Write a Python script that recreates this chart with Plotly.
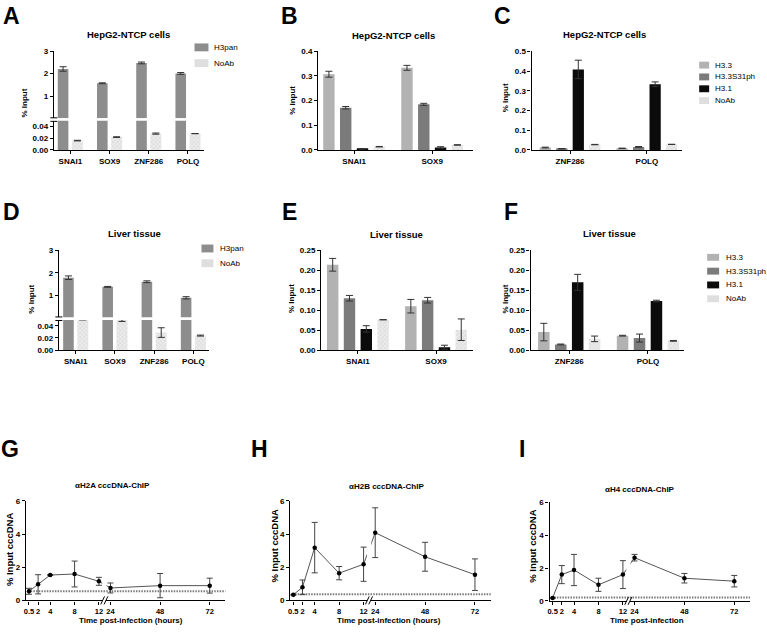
import plotly.graph_objects as go

W, H = 767, 633
FONT = "Liberation Sans, Arial, Helvetica, sans-serif"

# ---------- data ----------
genes = ["SNAI1", "SOX9", "ZNF286", "POLQ"]
genes_left = ["SNAI1", "SOX9"]
genes_right = ["ZNF286", "POLQ"]
pan_names = ["H3pan", "NoAb"]
variants = ["H3.3", "H3.3S31ph", "H3.1", "NoAb"]

# A  HepG2-NTCP cells, H3pan vs NoAb (% input)
a_h3pan = [2.21, 1.57, 2.48, 2.01]
a_h3pan_err = [0.10, 0.02, 0.04, 0.04]
a_noab = [0.016, 0.022, 0.028, 0.028]
a_noab_err = [0.0005, 0.0006, 0.001, 0.0]

# B  HepG2-NTCP cells, variants at SNAI1 / SOX9 (rows follow `variants`)
b_mean = [[0.307, 0.333], [0.171, 0.185], [0.004, 0.010], [0.013, 0.020]]
b_err = [[0.012, 0.010], [0.005, 0.004], [0.001, 0.003], [0.001, 0.001]]

# C  HepG2-NTCP cells, variants at ZNF286 / POLQ
c_mean = [[0.012, 0.008], [0.006, 0.015], [0.408, 0.333], [0.027, 0.028]]
c_err = [[0.002, 0.001], [0.001, 0.002], [0.047, 0.012], [0.001, 0.0005]]

# D  Liver tissue, H3pan vs NoAb
d_h3pan = [1.78, 1.37, 1.60, 0.88]
d_h3pan_err = [0.08, 0.02, 0.04, 0.05]
d_noab = [0.0505, 0.049, 0.029, 0.024]
d_noab_err = [0.0005, 0.0015, 0.008, 0.0008]

# E  Liver tissue, variants at SNAI1 / SOX9
e_mean = [[0.214, 0.110], [0.130, 0.125], [0.053, 0.007], [0.076, 0.051]]
e_err = [[0.016, 0.017], [0.007, 0.007], [0.008, 0.005], [0.0, 0.027]]

# F  Liver tissue, variants at ZNF286 / POLQ
f_mean = [[0.045, 0.036], [0.014, 0.030], [0.170, 0.123], [0.028, 0.023]]
f_err = [[0.022, 0.001], [0.001, 0.010], [0.020, 0.002], [0.007, 0.001]]

# G-I  cccDNA-ChIP time course (% input cccDNA)
hours = [0.5, 2, 4, 8, 12, 24, 48, 72]
hour_labels = ["0.5", "2", "4", "8", "12", "24", "48", "72"]
g_mean = [0.55, 0.97, 1.53, 1.59, 1.15, 0.75, 0.89, 0.89]
g_err = [0.18, 0.58, 0.03, 0.78, 0.24, 0.30, 0.73, 0.45]
g_base = 0.55
h_mean = [0.34, 0.79, 3.18, 1.64, 2.18, 4.08, 2.63, 1.55]
h_err = [0.03, 0.44, 1.52, 0.40, 1.03, 1.50, 0.87, 0.95]
h_base = 0.37
i_mean = [0.18, 1.60, 1.88, 0.98, 1.60, 2.63, 1.38, 1.20]
i_err = [0.02, 0.55, 0.95, 0.40, 0.85, 0.20, 0.29, 0.35]
i_base = 0.21

# ---------- styles ----------
pan_colors = {"H3pan": "#8d8d8d"}
var_colors = {"H3.3": "#b2b2b2", "H3.3S31ph": "#7b7b7b", "H3.1": "#0b0b0b"}
NOAB_SWATCH = "#dedede"


def px(x):
    return x / W


def py(y):
    return 1 - y / H


def brk(h):
    # broken time axis: 0-12 h linear, 24-72 h compressed
    return h if h <= 12 else 13.9 + (h - 24) * 0.34


def marker_for(name):
    if name == "NoAb":
        return dict(color="#e4e4e4",
                    pattern=dict(shape="x", fgcolor="#b8b8b8", bgcolor="#ebebeb", size=3, solidity=0.3),
                    line=dict(width=0))
    col = pan_colors.get(name) or var_colors[name]
    return dict(color=col, line=dict(width=0))


def err_style(arr, show=True):
    return dict(type="data", array=arr, visible=show, color="#333333", thickness=1, width=3.5)


AX = dict(showgrid=False, zeroline=False, showline=True, linecolor="black", linewidth=1.3,
          ticks="outside", ticklen=3, tickwidth=1.3, tickcolor="black", fixedrange=True, tickangle=0,
          tickfont=dict(family=FONT, size=8, color="black", weight="bold"))

fig = go.Figure()
layout = {}
shapes = []
annots = []


def add_text(text, x, y, size, bold=True, angle=0, anchor="center"):
    annots.append(dict(text=text, x=px(x), y=py(y), xref="paper", yref="paper", showarrow=False,
                       xanchor=anchor, yanchor="middle", textangle=angle,
                       font=dict(family=FONT, size=size, color="black", weight="bold" if bold else "normal")))


def add_legend(names, x0, x1, ys, hgt, tx):
    for name, y in zip(names, ys):
        col = NOAB_SWATCH if name == "NoAb" else (pan_colors.get(name) or var_colors[name])
        shapes.append(dict(type="rect", xref="paper", yref="paper", x0=px(x0), x1=px(x1),
                           y0=py(y + hgt / 2), y1=py(y - hgt / 2), fillcolor=col, line_width=0))
        add_text(name, tx, y, 8, bold=False, anchor="left")


# ---------- broken-axis panels (A, D) ----------
def pan_panel(n, xbox, xrange, upper, lower, h3pan, h3pan_err, noab, noab_err):
    xi, yl, yu = n, 2 * n - 1, 2 * n
    xa, ya_l, ya_u = f"x{xi}", f"y{yl}", f"y{yu}"
    layout[f"xaxis{xi}"] = dict(AX, type="category", domain=[px(xbox[0]), px(xbox[1])], range=xrange,
                                anchor=ya_l)
    layout[f"yaxis{yl}"] = dict(AX, domain=[py(lower[1]), py(lower[0])], range=[0, 0.05], anchor=xa,
                                tickvals=[0, 0.02, 0.04], ticktext=["0.00", "0.02", "0.04"])
    layout[f"yaxis{yu}"] = dict(AX, domain=[py(upper[1]), py(upper[0])], range=[0, 3], anchor=xa,
                                tickvals=[1, 2, 3])
    for ya in (ya_l, ya_u):
        fig.add_trace(go.Bar(x=genes, y=h3pan, name="H3pan", xaxis=xa, yaxis=ya, offset=-0.32, width=0.27,
                             marker=marker_for("H3pan"), error_y=err_style(h3pan_err, ya == ya_u)))
    fig.add_trace(go.Bar(x=genes, y=noab, name="NoAb", xaxis=xa, yaxis=ya_l, offset=0.04, width=0.28,
                         marker=marker_for("NoAb"), error_y=err_style(noab_err)))
    # break marks on the y axis
    mid = (upper[1] + lower[0]) / 2
    for dy in (-1.8, 1.8):
        shapes.append(dict(type="line", xref="paper", yref="paper", x0=px(xbox[0] - 3.5), x1=px(xbox[0] + 3.5),
                           y0=py(mid + dy), y1=py(mid + dy), line=dict(color="black", width=1)))


# ---------- four-variant panels (B, C, E, F) ----------
def var_panel(xi, yi, xbox, ybox, xrange, yrange, dtick, fmt, cats, means, errs):
    xa, ya = f"x{xi}", f"y{yi}"
    layout[f"xaxis{xi}"] = dict(AX, type="category", domain=[px(xbox[0]), px(xbox[1])], range=xrange, anchor=ya)
    layout[f"yaxis{yi}"] = dict(AX, domain=[py(ybox[1]), py(ybox[0])], range=yrange, anchor=xa,
                                dtick=dtick, tickformat=fmt)
    for name, m, e in zip(variants, means, errs):
        fig.add_trace(go.Bar(x=cats, y=m, name=name, xaxis=xa, yaxis=ya,
                             marker=marker_for(name), error_y=err_style(e)))


# ---------- time-course panels (G, H, I) ----------
def time_panel(xi, yi, xbox, ybox, mean, err, base):
    xa, ya = f"x{xi}", f"y{yi}"
    layout[f"xaxis{xi}"] = dict(AX, domain=[px(xbox[0]), px(xbox[1])], range=[0, 32.8], anchor=ya,
                                tickvals=[brk(h) for h in hours], ticktext=hour_labels,
                                tickfont=dict(family=FONT, size=7.5, color="black", weight="bold"))
    layout[f"yaxis{yi}"] = dict(AX, domain=[py(ybox[1]), py(ybox[0])], range=[0, 6], anchor=xa, dtick=2)
    shapes.append(dict(type="line", xref=f"{xa} domain", yref=ya, x0=0.01, x1=1, y0=base, y1=base,
                       line=dict(color="#7a7a7a", width=2, dash="1.5px,1.2px"), layer="below"))
    fig.add_trace(go.Scatter(x=[brk(h) for h in hours], y=mean, mode="lines+markers", xaxis=xa, yaxis=ya,
                             line=dict(color="#555555", width=1), cliponaxis=False,
                             marker=dict(color="black", size=4.5, symbol="circle"),
                             error_y=dict(type="data", array=err, color="#444444", thickness=1, width=3)))
    # gap in the curve and the // marks at the axis break
    shapes.append(dict(type="rect", xref=xa, yref=f"{ya} domain", x0=12.55, x1=13.25, y0=0.12, y1=1,
                       fillcolor="white", line_width=0, layer="above"))
    shapes.append(dict(type="rect", xref=xa, yref=f"{ya} domain", x0=12.62, x1=13.15, y0=-0.025, y1=0.025,
                       fillcolor="white", line_width=0, layer="above"))
    for x0 in (12.3, 12.85):
        shapes.append(dict(type="line", xref=xa, yref=f"{ya} domain", x0=x0, x1=x0 + 0.62, y0=-0.04, y1=0.04,
                           line=dict(color="black", width=1), layer="above"))


pan_panel(1, (52, 203), [-0.42, 3.42], (48, 116), (118.5, 148), a_h3pan, a_h3pan_err, a_noab, a_noab_err)
var_panel(2, 3, (317, 472), (48, 148), [-0.46, 1.52], [0, 0.4], 0.1, ".1f", genes_left, b_mean, b_err)
var_panel(3, 4, (531, 682), (48, 148), [-0.5, 1.46], [0, 0.5], 0.1, ".1f", genes_right, c_mean, c_err)
pan_panel(4, (57, 208), [-0.43, 3.41], (250, 318), (320.5, 351), d_h3pan, d_h3pan_err, d_noab, d_noab_err)
var_panel(5, 9, (320, 472), (250, 351), [-0.47, 1.47], [0, 0.25], 0.05, ".2f", genes_left, e_mean, e_err)
var_panel(6, 10, (530, 684), (250, 351), [-0.49, 1.46], [0, 0.25], 0.05, ".2f", genes_right, f_mean, f_err)
time_panel(7, 11, (24, 224), (504, 605), g_mean, g_err, g_base)
time_panel(8, 12, (289, 490), (504, 605), h_mean, h_err, h_base)
time_panel(9, 13, (549, 750), (505.5, 605.5), i_mean, i_err, i_base)

# ---------- legends ----------
add_legend(pan_names, 193, 207, [44, 60], 8, 211)
add_legend(variants, 699, 709, [62, 74, 86, 98], 7, 713)
add_legend(pan_names, 200, 212, [248, 263], 8, 217)
add_legend(variants, 707, 719, [257, 271, 285, 299], 7, 724)

# ---------- titles and labels ----------
for t, x, y in [("HepG2-NTCP cells", 127, 31), ("HepG2-NTCP cells", 393, 32), ("HepG2-NTCP cells", 604, 31),
                ("Liver tissue", 133, 233), ("Liver tissue", 396, 234), ("Liver tissue", 609, 233)]:
    add_text(t, x, y, 9.5)
for t, x, y in [("αH2A cccDNA-ChIP", 111, 488), ("αH2B cccDNA-ChIP", 386, 489), ("αH4 cccDNA-ChIP", 640, 492)]:
    add_text(t, x, y, 8)
for x, y in [(23, 100), (291, 98), (505, 95), (30, 299), (291, 299), (505, 299)]:
    add_text("% Input", x, y, 8, angle=-90)
for x, y in [(7, 553), (273, 549), (532, 550)]:
    add_text("% Input cccDNA", x, y, 9.5, angle=-90)
for t, x in [("Time post-infection (hours)", 129), ("Time post-infection (hours)", 388), ("Time post-infection", 647)]:
    add_text(t, x, 625, 8)
for t, x, y in [("A", 10, 12), ("B", 288, 12), ("C", 502, 12), ("D", 10, 211), ("E", 288, 211),
                ("F", 510, 211), ("G", 8, 451), ("H", 258, 451), ("I", 521, 451)]:
    add_text(t, x, y, 23)

fig.update_layout(
    width=W, height=H,
    margin=dict(l=0, r=0, t=0, b=0),
    paper_bgcolor="white", plot_bgcolor="white",
    showlegend=False, barmode="group", bargap=0.14, bargroupgap=0.32,
    font=dict(family=FONT, color="black"),
    shapes=shapes, annotations=annots,
    **layout,
)

# the page body has a default 8px margin; drop it so the figure sits at the window corner
fig.write_html("out.html", config={"displayModeBar": False},
               post_script="document.body.style.margin='0';")
